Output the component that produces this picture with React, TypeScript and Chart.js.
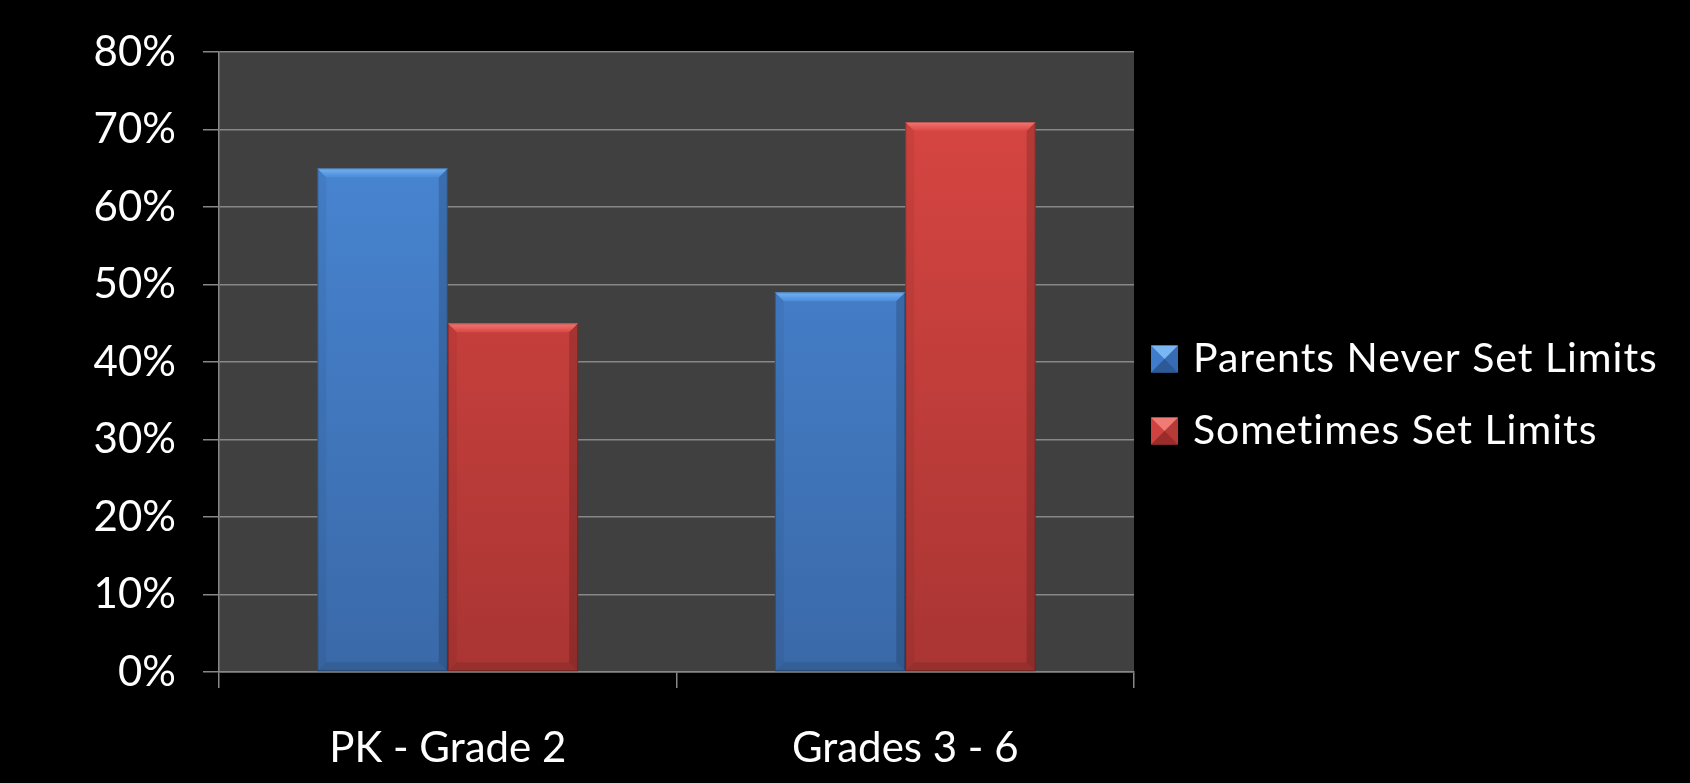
import React, { useEffect, useRef } from 'react';
import { Chart, registerables } from 'chart.js';

Chart.register(...registerables);

// Chart data
const categories = ['PK - Grade 2', 'Grades 3 - 6'];
const seriesNames = ['Parents Never Set Limits', 'Sometimes Set Limits'];
const neverSetLimits = [65, 49];
const sometimesSetLimits = [45, 71];
const yMin = 0;
const yMax = 80;
const yStep = 10;

// Styling
const W = 1690;
const H = 783;
const FONT = 'Lato';
const AXIS_FONT_SIZE = 42;
const LEGEND_FONT_SIZE = 41;
const PLOT_BG = '#404040';
const GRID = '#878787';
const barTop = ['#4a8ad9', '#db4743'];
const barBottom = ['#3a69a8', '#a93533'];
const bevelLight = ['#74b3f2', '#f27773'];
const legendFill = ['#3f7ccb', '#d0423f'];
const legendLight = ['#79b6f3', '#f07a76'];
const legendDark = ['#2d5a96', '#9a2d2b'];

const gradientFill = (i: number) => (c: any) => {
  const area = c.chart.chartArea;
  if (!area) return barTop[i];
  const g = c.chart.ctx.createLinearGradient(0, area.top, 0, area.bottom);
  g.addColorStop(0, barTop[i]);
  g.addColorStop(1, barBottom[i]);
  return g;
};

const plotBackground = {
  id: 'plotBackground',
  beforeDraw(chart: any) {
    const { ctx, chartArea: a } = chart;
    ctx.save();
    ctx.fillStyle = '#000';
    ctx.fillRect(0, 0, chart.width, chart.height);
    ctx.fillStyle = PLOT_BG;
    ctx.fillRect(a.left, a.top, a.right - a.left, a.bottom - a.top);
    ctx.restore();
  },
};

const face = (ctx: CanvasRenderingContext2D, pts: number[][], fill: any) => {
  ctx.fillStyle = fill;
  ctx.beginPath();
  ctx.moveTo(pts[0][0], pts[0][1]);
  for (let i = 1; i < pts.length; i++) ctx.lineTo(pts[i][0], pts[i][1]);
  ctx.closePath();
  ctx.fill();
};

// Bevelled edges on each bar
const barBevel = {
  id: 'barBevel',
  afterDatasetsDraw(chart: any) {
    const ctx = chart.ctx;
    chart.data.datasets.forEach((_: any, di: number) => {
      const meta = chart.getDatasetMeta(di);
      meta.data.forEach((bar: any) => {
        const { x, y, width, base } = bar.getProps(['x', 'y', 'width', 'base'], true);
        const l = x - width / 2;
        const r = x + width / 2;
        const t = y;
        const b = base;
        const d = 9;
        ctx.save();
        const tg = ctx.createLinearGradient(0, t, 0, t + d);
        tg.addColorStop(0, bevelLight[di]);
        tg.addColorStop(1, barTop[di]);
        face(ctx, [[l, t], [r, t], [r - d, t + d], [l + d, t + d]], tg);
        face(ctx, [[l, t], [l + d, t + d], [l + d, b - d], [l, b]], 'rgba(0,0,0,0.05)');
        face(ctx, [[r, t], [r - d, t + d], [r - d, b - d], [r, b]], 'rgba(0,0,0,0.16)');
        face(ctx, [[l, b], [l + d, b - d], [r - d, b - d], [r, b]], 'rgba(0,0,0,0.1)');
        ctx.strokeStyle = 'rgba(0,0,0,0.25)';
        ctx.lineWidth = 1;
        ctx.strokeRect(l + 0.5, t + 0.5, width - 1, b - t - 1);
        ctx.restore();
      });
    });
  },
};

// Legend to the right of the plot, with pyramid-shaded swatches
const sideLegend = {
  id: 'sideLegend',
  afterDraw(chart: any) {
    const { ctx, chartArea: a } = chart;
    const boxX = a.right + 17;
    const box = 27;
    const textX = a.right + 59;
    const rowGap = 72;
    const firstRow = 359;
    ctx.save();
    ctx.font = `${LEGEND_FONT_SIZE}px ${FONT}`;
    ctx.textBaseline = 'alphabetic';
    ctx.textAlign = 'left';
    seriesNames.forEach((name, i) => {
      const cy = firstRow + i * rowGap;
      const t = cy - box / 2;
      const l = boxX;
      const r = boxX + box;
      const b = t + box;
      const m = box / 2;
      ctx.fillStyle = legendFill[i];
      ctx.fillRect(l, t, box, box);
      face(ctx, [[l, t], [r, t], [l + m, t + m]], legendLight[i]);
      face(ctx, [[l, b], [r, b], [l + m, t + m]], legendDark[i]);
      face(ctx, [[r, t], [r, b], [l + m, t + m]], 'rgba(0,0,0,0.12)');
      ctx.fillStyle = '#ffffff';
      (ctx as any).letterSpacing = '1px';
      ctx.fillText(name, textX, cy - 2 + LEGEND_FONT_SIZE * 0.36);
      (ctx as any).letterSpacing = '0px';
    });
    ctx.restore();
  },
};

export default function App() {
  const ref = useRef<HTMLCanvasElement | null>(null);

  useEffect(() => {
    const canvas = ref.current;
    if (!canvas) return;

    const chart = new Chart(canvas, {
      type: 'bar',
      data: {
        labels: categories,
        datasets: [
          {
            label: seriesNames[0],
            data: neverSetLimits,
            backgroundColor: gradientFill(0),
            borderWidth: 0,
          },
          {
            label: seriesNames[1],
            data: sometimesSetLimits,
            backgroundColor: gradientFill(1),
            borderWidth: 0,
          },
        ],
      },
      options: {
        responsive: false,
        animation: false,
        devicePixelRatio: 1,
        layout: { padding: { top: 48, left: 0, bottom: 0, right: 556 } },
        datasets: {
          bar: { categoryPercentage: 0.57, barPercentage: 1 },
        },
        scales: {
          x: {
            afterFit: (s: any) => {
              s.height = 111;
            },
            grid: {
              offset: true,
              drawOnChartArea: false,
              drawTicks: true,
              tickLength: 16,
              color: GRID,
              lineWidth: 1.5,
            },
            border: { display: true, color: GRID, width: 1.5 },
            ticks: {
              color: '#ffffff',
              padding: 35,
              font: { family: FONT, size: AXIS_FONT_SIZE },
            },
          },
          y: {
            min: yMin,
            max: yMax,
            afterFit: (s: any) => {
              s.width = 219;
            },
            grid: {
              color: GRID,
              lineWidth: 1.5,
              tickLength: 16,
              drawTicks: true,
            },
            border: { display: true, color: GRID, width: 1.5 },
            ticks: {
              stepSize: yStep,
              color: '#ffffff',
              padding: 27,
              font: { family: FONT, size: AXIS_FONT_SIZE },
              callback: (v: any) => `${v}%`,
            },
          },
        },
        plugins: {
          tooltip: { enabled: false },
          legend: { display: false },
        },
      },
      plugins: [plotBackground, barBevel, sideLegend],
    });

    return () => chart.destroy();
  }, []);

  return (
    <div style={{ position: 'fixed', left: 0, top: 0, width: W, height: H, background: '#000' }}>
      <canvas ref={ref} width={W} height={H} style={{ display: 'block', width: W, height: H }} />
    </div>
  );
}
